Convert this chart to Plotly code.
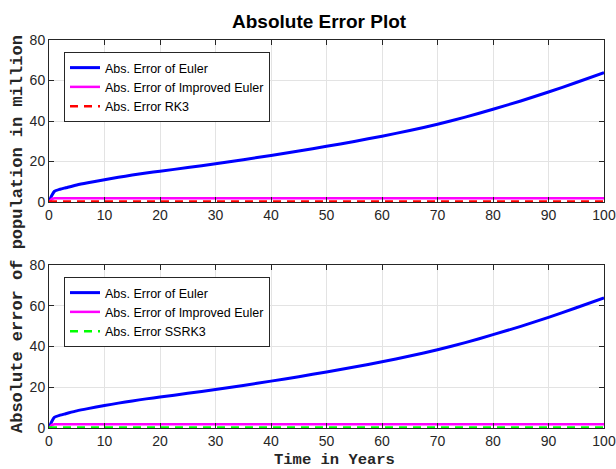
import plotly.graph_objects as go

# Time grid (years) and absolute errors (million)
t = [0, 0.5, 1, 2, 3, 5, 7, 10, 12.5, 15, 17.5, 20, 25, 30, 35, 40, 45, 50,
     55, 60, 65, 70, 75, 80, 85, 90, 95, 100]
err_euler = [0, 3.2, 5.3, 6.3, 7.0, 8.4, 9.5, 11.0, 12.2, 13.3, 14.3, 15.2,
             17.0, 18.9, 20.9, 23.0, 25.2, 27.5, 29.9, 32.5, 35.3, 38.4,
             41.9, 45.8, 49.9, 54.3, 59.0, 63.9]
err_improved = [0, 1.5] + [1.8] * (len(t) - 2)
err_rk3 = [0.3] * len(t)
err_ssrk3 = [0.3] * len(t)

x_ticks = [0, 10, 20, 30, 40, 50, 60, 70, 80, 90, 100]
y_ticks = [0, 20, 40, 60, 80]

W, H = 616, 469
ML, MR, MT, MB = 49, 12, 40, 41
plot_w = W - ML - MR
plot_h = H - MT - MB


def frac(py):
    return (H - MB - py) / plot_h


fig = go.Figure()

panels = [
    ("x", "y", "legend", "Abs. Error RK3", err_rk3, "#ff0000"),
    ("x2", "y2", "legend2", "Abs. Error SSRK3", err_ssrk3, "#00ff00"),
]
for xa, ya, leg, name3, err3, col3 in panels:
    fig.add_trace(go.Scatter(x=t, y=err_euler, mode="lines", name="Abs. Error of Euler",
                             line=dict(color="#0000ff", width=3, shape="spline", smoothing=0.6),
                             xaxis=xa, yaxis=ya, legend=leg))
    fig.add_trace(go.Scatter(x=t, y=err_improved, mode="lines", name="Abs. Error of Improved Euler",
                             line=dict(color="#ff00ff", width=2.5),
                             xaxis=xa, yaxis=ya, legend=leg))
    fig.add_trace(go.Scatter(x=t, y=err3, mode="lines", name=name3,
                             line=dict(color=col3, width=2.5, dash="8px,6px"),
                             xaxis=xa, yaxis=ya, legend=leg))

axis_common = dict(
    showline=True, linecolor="#262626", linewidth=1, mirror="ticks",
    ticks="inside", ticklen=5, tickcolor="#262626",
    showgrid=True, gridcolor="#e3e3e3", gridwidth=1, zeroline=False,
    automargin=False,
    tickfont=dict(family="Liberation Sans, Arial", size=14, color="#262626"),
)

legend_common = dict(
    x=(64 - ML) / plot_w, xanchor="left", yanchor="top",
    bgcolor="white", bordercolor="#262626", borderwidth=1,
    font=dict(family="Liberation Sans, Arial", size=12.5, color="black"),
    itemwidth=30, tracegroupgap=0,
)

fig.update_layout(
    width=W, height=H,
    margin=dict(l=ML, r=MR, t=MT, b=MB),
    paper_bgcolor="white", plot_bgcolor="white",
    showlegend=True,
    xaxis=dict(axis_common, domain=[0, 1], range=[0, 100], tickvals=x_ticks, anchor="y"),
    yaxis=dict(axis_common, domain=[frac(202), 1], range=[0, 80], tickvals=y_ticks, anchor="x"),
    xaxis2=dict(axis_common, domain=[0, 1], range=[0, 100], tickvals=x_ticks, anchor="y2"),
    yaxis2=dict(axis_common, domain=[0, frac(265)], range=[0, 80], tickvals=y_ticks, anchor="x2"),
    legend=dict(legend_common, y=frac(52)),
    legend2=dict(legend_common, y=frac(277)),
    annotations=[
        dict(text="<b>Absolute Error Plot</b>", x=0.5, y=1, xref="paper", yref="paper",
             xanchor="center", yanchor="bottom", yshift=6, xshift=-7, showarrow=False,
             font=dict(family="Liberation Sans, Arial", size=19, color="black")),
        dict(text="<b>Absolute error of population in million</b>", x=0, y=0.5,
             xref="paper", yref="paper", xanchor="center", yanchor="middle",
             xshift=-32, textangle=-90, showarrow=False,
             font=dict(family="Liberation Mono, Courier New, monospace", size=17, color="#262626")),
        dict(text="<b>Time in Years</b>", x=0.5, y=0, xref="paper", yref="paper",
             xanchor="center", yanchor="top", yshift=-21, xshift=8, showarrow=False,
             font=dict(family="Liberation Mono, Courier New, monospace", size=15.5, color="#262626")),
    ],
)

fig.write_html("out.html")
